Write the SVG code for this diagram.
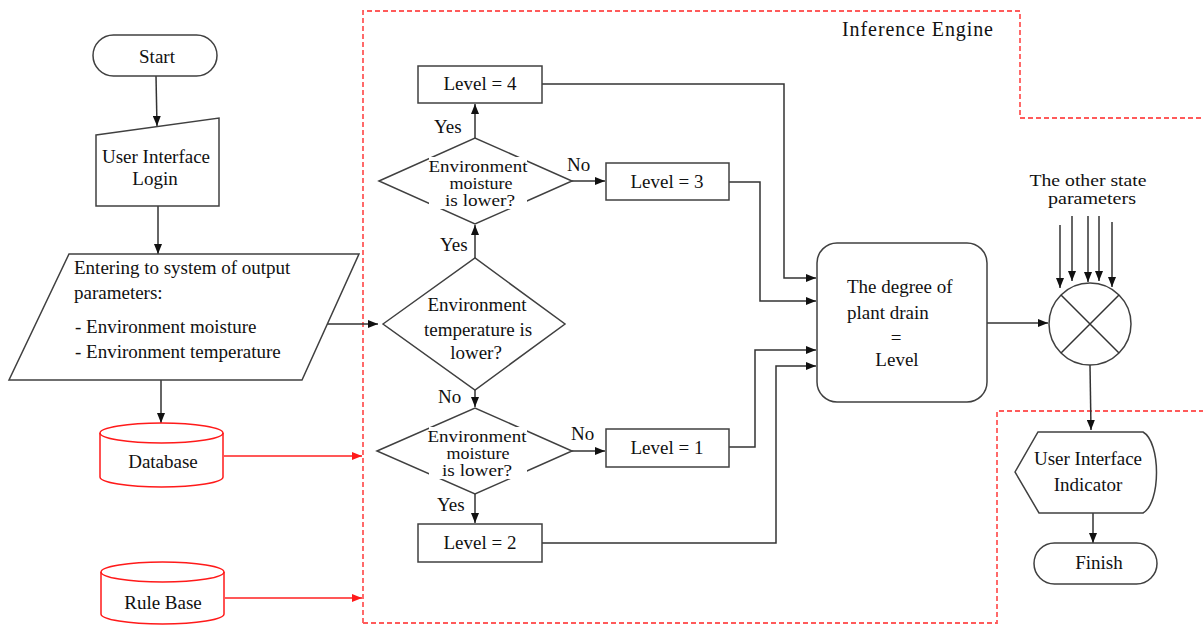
<svg xmlns="http://www.w3.org/2000/svg" width="1203" height="626" viewBox="0 0 1203 626">
<style>
.s{fill:#fff;stroke:#404040;stroke-width:1.5}
.r{fill:#fff;stroke:#ff1a1a;stroke-width:1.5}
.c{fill:none;stroke:#333;stroke-width:1.5}
.cr{fill:none;stroke:#ff2020;stroke-width:1.5}
.b{fill:none;stroke:#ff5a5a;stroke-width:1.8;stroke-dasharray:5 3}
text{font-family:"Liberation Serif","Times New Roman",serif;font-size:19px;fill:#111}
.m{text-anchor:middle}
.d{font-size:16px}
</style>
<defs>
<marker id="a" markerUnits="userSpaceOnUse" markerWidth="10" markerHeight="8" refX="10" refY="4" orient="auto"><path d="M0,0 L10,4 L0,8 z" fill="#111"/></marker>
<marker id="ar" markerUnits="userSpaceOnUse" markerWidth="10" markerHeight="8" refX="10" refY="4" orient="auto"><path d="M0,0 L10,4 L0,8 z" fill="#ff1a1a"/></marker>
</defs>
<g id="boundary">
<path class="b" d="M363,623 L363,11 L1020,11 L1020,118 L1203,118"/>
<path class="b" d="M363,623 L997,623 L997,411 L1203,411"/>
<text x="842" y="36" style="font-size:20px" textLength="151">Inference Engine</text>
</g>
<g id="connectors">
<path class="c" marker-end="url(#a)" d="M156,76 L157,126"/>
<path class="c" marker-end="url(#a)" d="M158,206 L158,254"/>
<path class="c" marker-end="url(#a)" d="M327,324 L378,324"/>
<path class="c" marker-end="url(#a)" d="M161,380 L161,423"/>
<path class="cr" marker-end="url(#ar)" d="M224,456 L362,456"/>
<path class="cr" marker-end="url(#ar)" d="M225,598 L362,598"/>
<path class="c" marker-end="url(#a)" d="M475,138 L475,104"/>
<path class="c" marker-end="url(#a)" d="M475,258 L475,225"/>
<path class="c" marker-end="url(#a)" d="M572,181 L605,181"/>
<path class="c" marker-end="url(#a)" d="M475,390 L475,407"/>
<path class="c" marker-end="url(#a)" d="M572,451 L605,451"/>
<path class="c" marker-end="url(#a)" d="M475,494 L475,523"/>
<path class="c" marker-end="url(#a)" d="M542,84 L784,84 L784,278 L816,278"/>
<path class="c" marker-end="url(#a)" d="M729,182 L760,182 L760,301 L816,301"/>
<path class="c" marker-end="url(#a)" d="M729,447 L755,447 L755,350 L816,350"/>
<path class="c" marker-end="url(#a)" d="M542,543 L776,543 L776,366 L816,366"/>
<path class="c" marker-end="url(#a)" d="M987,323 L1048,323"/>
<path class="c" marker-end="url(#a)" d="M1060,225 L1060,288"/>
<path class="c" marker-end="url(#a)" d="M1072,216 L1072,281"/>
<path class="c" marker-end="url(#a)" d="M1088,216 L1088,282"/>
<path class="c" marker-end="url(#a)" d="M1099,216 L1099,281"/>
<path class="c" marker-end="url(#a)" d="M1112,222 L1112,287"/>
<path class="c" marker-end="url(#a)" d="M1090,365 L1091,430"/>
<path class="c" marker-end="url(#a)" d="M1093,513 L1093,543"/>
</g>
<g id="start">
<rect class="s" x="93" y="35" width="124" height="41" rx="20.5"/>
<text class="m" x="157" y="63">Start</text>
</g>
<g id="login">
<path class="s" d="M96,135 L219,118 L219,206 L96,206 Z"/>
<text class="m" x="156" y="163">User Interface</text>
<text class="m" x="155" y="185">Login</text>
</g>
<g id="input">
<path class="s" d="M69,254 L359,254 L302,380 L9,380 Z"/>
<text x="74" y="274">Entering to system of output</text>
<text x="74" y="299">parameters:</text>
<text x="75" y="333">- Environment moisture</text>
<text x="75" y="358">- Environment temperature</text>
</g>
<g id="database">
<path class="r" d="M100,433 A61.5,10 0 0 1 223,433 L223,477 A61.5,10 0 0 1 100,477 Z"/>
<path class="r" style="fill:none" d="M100,433 A61.5,10 0 0 0 223,433"/>
<text class="m" x="163" y="468">Database</text>
</g>
<g id="rulebase">
<path class="r" d="M101,572 A61.5,10 0 0 1 224,572 L224,614 A61.5,10 0 0 1 101,614 Z"/>
<path class="r" style="fill:none" d="M101,572 A61.5,10 0 0 0 224,572"/>
<text class="m" x="163" y="609">Rule Base</text>
</g>
<g id="level4">
<rect class="s" x="418" y="66" width="124" height="37"/>
<text class="m" x="480" y="90">Level = 4</text>
</g>
<g id="moisture1">
<path class="s" d="M379,181 L475,138 L572,181 L475,224 Z"/>
<rect x="429" y="157" width="98" height="52" fill="#fff"/>
<text class="m d" x="478" y="172" textLength="99" lengthAdjust="spacingAndGlyphs">Environment</text>
<text class="m d" x="481" y="189" textLength="63" lengthAdjust="spacingAndGlyphs">moisture</text>
<text class="m d" x="480" y="206" textLength="70" lengthAdjust="spacingAndGlyphs">is lower?</text>
<text x="434" y="133">Yes</text>
<text x="567" y="171">No</text>
</g>
<g id="level3">
<rect class="s" x="606" y="163" width="123" height="37"/>
<text class="m" x="667" y="188">Level = 3</text>
</g>
<g id="temperature">
<path class="s" d="M383,324 L475,258 L565,324 L475,390 Z"/>
<text class="m" x="477" y="311">Environment</text>
<text class="m" x="478" y="336">temperature is</text>
<text class="m" x="476" y="359">lower?</text>
<text x="440" y="251">Yes</text>
<text x="438" y="403">No</text>
</g>
<g id="moisture2">
<path class="s" d="M377,451 L475,408 L572,451 L475,494 Z"/>
<rect x="429" y="427" width="98" height="52" fill="#fff"/>
<text class="m d" x="477" y="442" textLength="99" lengthAdjust="spacingAndGlyphs">Environment</text>
<text class="m d" x="478" y="459" textLength="63" lengthAdjust="spacingAndGlyphs">moisture</text>
<text class="m d" x="477" y="476" textLength="70" lengthAdjust="spacingAndGlyphs">is lower?</text>
<text x="571" y="440">No</text>
<text x="437" y="511">Yes</text>
</g>
<g id="level1">
<rect class="s" x="606" y="429" width="123" height="38"/>
<text class="m" x="667" y="454">Level = 1</text>
</g>
<g id="level2">
<rect class="s" x="418" y="524" width="124" height="38"/>
<text class="m" x="480" y="549">Level = 2</text>
</g>
<g id="degree">
<rect class="s" x="817" y="243" width="170" height="159" rx="20"/>
<text x="847" y="293">The degree of</text>
<text x="847" y="319">plant drain</text>
<text class="m" x="896" y="344">=</text>
<text class="m" x="897" y="366">Level</text>
</g>
<g id="combiner">
<circle class="s" cx="1090" cy="324" r="41"/>
<path class="c" d="M1061,295 L1119,353 M1119,295 L1061,353"/>
</g>
<g id="other">
<text class="m d" x="1088" y="186" textLength="117" lengthAdjust="spacingAndGlyphs">The other state</text>
<text class="m d" x="1092" y="204" textLength="88" lengthAdjust="spacingAndGlyphs">parameters</text>
</g>
<g id="indicator">
<path class="s" d="M1015,472 L1038,432 L1143,432 C1161,442 1161,503 1143,513 L1039,513 Z"/>
<text class="m" x="1088" y="465">User Interface</text>
<text class="m" x="1088" y="491">Indicator</text>
</g>
<g id="finish">
<rect class="s" x="1034" y="543" width="123" height="41" rx="20.5"/>
<text class="m" x="1099" y="569">Finish</text>
</g>
</svg>
